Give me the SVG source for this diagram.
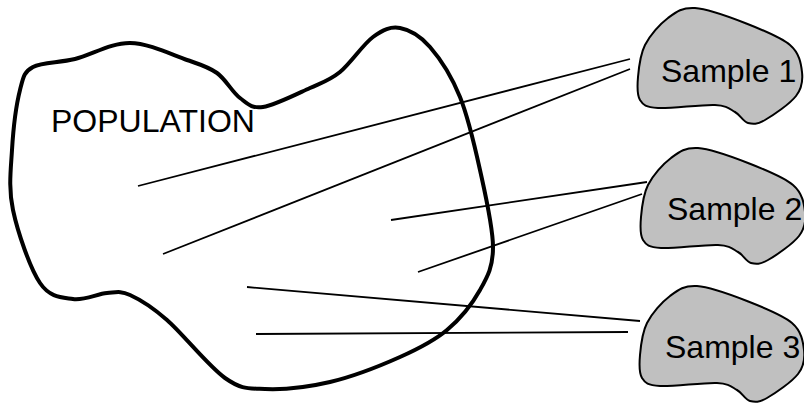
<svg xmlns="http://www.w3.org/2000/svg" xmlns:xlink="http://www.w3.org/1999/xlink" width="804" height="403" viewBox="0 0 804 403">
<style>
.pop{fill:none;stroke:#000;stroke-width:4;stroke-linejoin:round}
.smp{fill:#c0c0c0;stroke:#000;stroke-width:2;stroke-linejoin:round}
.con line{stroke:#000;stroke-width:1.8;stroke-linecap:butt}
.lbl{font-family:"Liberation Sans",Arial,sans-serif;font-size:32px;fill:#000}
</style>
<defs>
<path id="blob" d="M638,77 C638.8,67.8 640,54.8 645,45 C650,35.2 659.7,24.2 668,18 C676.3,11.8 682.2,7.2 695,8 C707.8,8.8 729.2,16.8 745,23 C760.8,29.2 780.5,36.8 790,45 C799.5,53.2 801,63.5 802,72 C803,80.5 802.2,88 796,96 C789.8,104 773,115.5 765,120 C757,124.5 753,124.3 748,123 C743,121.7 740.5,115 735,112 C729.5,109 727.8,105.7 715,105 C702.2,104.3 670.5,108.8 658,108 C645.5,107.2 643.3,105.2 640,100 C636.7,94.8 637.2,86.2 638,77 Z"/>
</defs>
<rect width="804" height="403" fill="#fff"/>
<g id="population">
<path class="pop" d="M33,67 C42.2,61.8 58.8,63 75,59 C91.2,55 111.3,42.8 130,43 C148.7,43.2 172.5,55 187,60 C201.5,65 208.2,66.7 217,73 C225.8,79.3 232.3,92.3 240,98 C247.7,103.7 251.3,108.7 263,107 C274.7,105.3 297.2,93.8 310,88 C322.8,82.2 329.5,80.5 340,72 C350.5,63.5 363,44.3 373,37 C383,29.7 390.5,26.3 400,28 C409.5,29.7 420,35.5 430,47 C440,58.5 451.7,76.5 460,97 C468.3,117.5 474.5,145 480,170 C485.5,195 493,227 493,247 C493,267 487.7,276.2 480,290 C472.3,303.8 460.3,318.8 447,330 C433.7,341.2 419.5,348.3 400,357 C380.5,365.7 352.5,376.7 330,382 C307.5,387.3 282.5,389.7 265,389 C247.5,388.3 241.3,389.5 225,378 C208.7,366.5 182.8,333.8 167,320 C151.2,306.2 140,299.5 130,295 C120,290.5 116.5,292.3 107,293 C97.5,293.7 84.2,300.7 73,299 C61.8,297.3 50,297.8 40,283 C30,268.2 17.7,232.2 13,210 C8.3,187.8 10.8,170 12,150 C13.2,130 16.5,103.8 20,90 C23.5,76.2 23.8,72.2 33,67 Z"/>
<text class="lbl" x="51" y="132">POPULATION</text>
</g>
<g id="sample1">
<use xlink:href="#blob" class="smp"/>
<text class="lbl" x="661" y="82">Sample 1</text>
</g>
<g id="sample2">
<use xlink:href="#blob" class="smp" transform="translate(3,140)"/>
<text class="lbl" x="667" y="220">Sample 2</text>
</g>
<g id="sample3">
<use xlink:href="#blob" class="smp" transform="translate(2,278)"/>
<text class="lbl" x="665" y="358">Sample 3</text>
</g>
<g id="connectors" class="con">
<line x1="138" y1="186" x2="630" y2="59"/>
<line x1="163" y1="254" x2="630" y2="69"/>
<line x1="391" y1="220" x2="647" y2="182"/>
<line x1="418" y1="272" x2="642" y2="194"/>
<line x1="247" y1="287" x2="640" y2="321"/>
<line x1="256" y1="334" x2="628" y2="332"/>
</g>
</svg>
